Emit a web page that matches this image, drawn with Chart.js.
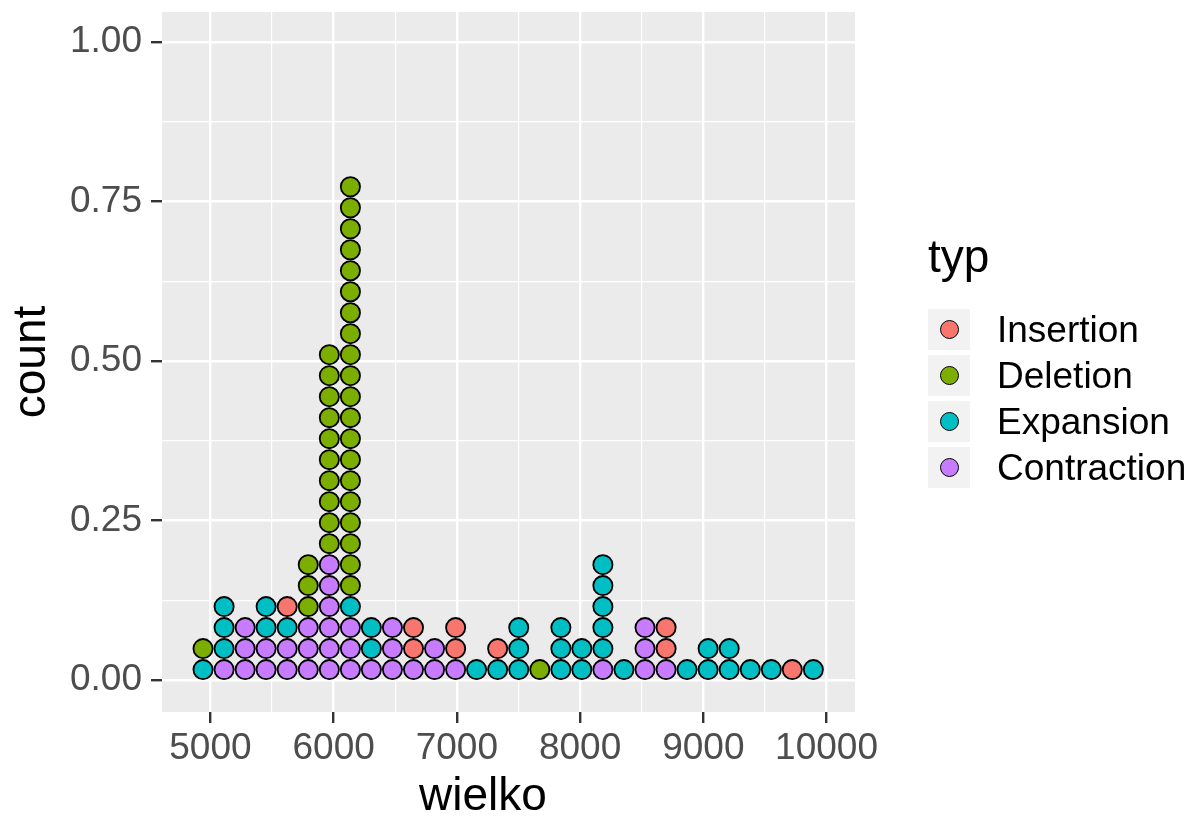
<!DOCTYPE html>
<html>
<head>
<meta charset="utf-8">
<title>dotplot typ</title>
<script src="https://cdn.jsdelivr.net/npm/chart.js@4/dist/chart.umd.min.js"></script>
<style>
    body { margin: 0; background: #fff; font-family: "Liberation Sans", Arial, sans-serif; }
    #wrap { position: relative; width: 1191px; height: 820px; }
    #chart { position: absolute; left: 0; top: 0; }
    .xtitle { position: absolute; left: 0; width: 966px; top: 771px; text-align: center; font-size: 46px; line-height: 46px; color: #000; }
    .legend { position: absolute; left: 928px; top: 233px; color: #000; }
    .legend .ttl { font-size: 46px; line-height: 46px; height: 73px; }
    .legend .row { display: flex; align-items: center; height: 46px; }
    .legend .key { width: 42px; height: 41px; background: #F2F2F2; display: flex; align-items: center; justify-content: center; margin-right: 27px; }
    .legend .dot { width: 17px; height: 17px; border-radius: 50%; border: 1.7px solid #000; }
    .legend .lab { font-size: 37px; line-height: 41px; }
</style>
</head>
<body>
<div id="wrap">
    <canvas id="chart" width="1191" height="820"></canvas>
    <div class="xtitle">wielko</div>
    <div class="legend" id="legend"></div>
</div>
<script>
// --- dane ---
const types = ['Insertion', 'Deletion', 'Expansion', 'Contraction'];
const typeColors = ['#F8766D', '#7CAE00', '#00BFC4', '#C77CFF'];
// kolejnosc ukladania kropek od dolu
const stackOrder = ['Contraction', 'Expansion', 'Deletion', 'Insertion'];

// srodki przedzialow (wielko)
const bins = [4940, 5111, 5282, 5452, 5623, 5794, 5965, 6136, 6306, 6477,
              6648, 6819, 6990, 7160, 7331, 7502, 7673, 7844, 8014, 8185,
              8356, 8527, 8698, 8868, 9039, 9210, 9381, 9552, 9722, 9893];

// liczba kropek w kazdym przedziale
const insertionCounts   = [0,0,0,0,1,0,0,0,0,0, 2,0,2,0,1,0,0,0,0,0, 0,0,2,0,0,0,0,0,1,0];
const deletionCounts    = [1,0,0,0,0,3,10,20,0,0, 0,0,0,0,0,0,1,0,0,0, 0,0,0,0,0,0,0,0,0,0];
const expansionCounts   = [1,3,0,2,1,0,0,1,2,0, 0,0,0,1,1,3,0,3,2,5, 1,0,0,1,2,2,1,1,0,1];
const contractionCounts = [0,1,3,2,2,3,6,3,1,3, 1,2,1,0,0,0,0,0,0,1, 0,3,1,0,0,0,0,0,0,0];

const xMajor = [5000, 6000, 7000, 8000, 9000, 10000];
const xMinor = [5500, 6500, 7500, 8500, 9500];
const yMajor = [0, 0.25, 0.5, 0.75, 1];
const yMinor = [0.125, 0.375, 0.625, 0.875];

const dotH = 0.0329; // wysokosc jednej kropki w jednostkach osi y

const countsByType = {
    Insertion: insertionCounts,
    Deletion: deletionCounts,
    Expansion: expansionCounts,
    Contraction: contractionCounts
};

// ukladanie kropek w stosy
const points = {};
types.forEach(t => points[t] = []);
bins.forEach((b, i) => {
    let row = 0;
    stackOrder.forEach(t => {
        for (let k = 0; k < countsByType[t][i]; k++) {
            points[t].push({ x: b, y: (row + 0.5) * dotH });
            row++;
        }
    });
});

const FONT = "'Liberation Sans', Arial, sans-serif";

const panelBg = {
    id: 'panelBg',
    beforeDraw(chart) {
        const { ctx, chartArea: a } = chart;
        ctx.save();
        ctx.fillStyle = '#EBEBEB';
        ctx.fillRect(a.left, a.top, a.right - a.left, a.bottom - a.top);
        ctx.restore();
    }
};

const isIn = (arr, v) => arr.some(m => Math.abs(m - v) < 1e-9);

new Chart(document.getElementById('chart'), {
    type: 'scatter',
    data: {
        datasets: types.map((t, i) => ({
            label: t,
            data: points[t],
            backgroundColor: typeColors[i],
            borderColor: '#000',
            borderWidth: 1.8,
            pointRadius: 9.6,
            pointHoverRadius: 9.6
        }))
    },
    options: {
        responsive: false,
        animation: false,
        layout: { padding: { left: 0, right: 336, top: 12, bottom: 0 } },
        plugins: { legend: { display: false }, tooltip: { enabled: false } },
        scales: {
            x: {
                type: 'linear', min: 4607, max: 10231,
                afterBuildTicks: s => { s.ticks = xMajor.concat(xMinor).sort((a, b) => a - b).map(v => ({ value: v })); },
                afterFit: s => { s.height = 108; s.paddingLeft = 0; s.paddingRight = 0; },
                border: { display: false },
                grid: {
                    color: '#FFFFFF',
                    lineWidth: c => isIn(xMajor, c.tick.value) ? 2.4 : 1.2,
                    tickColor: c => isIn(xMajor, c.tick.value) ? '#333333' : 'rgba(0,0,0,0)',
                    tickLength: 11, tickWidth: 2.4
                },
                ticks: {
                    autoSkip: false, maxRotation: 0, padding: 4,
                    color: '#4D4D4D', font: { size: 37, family: FONT },
                    callback: v => isIn(xMajor, v) ? String(v) : ''
                }
            },
            y: {
                type: 'linear', min: -0.05, max: 1.047,
                afterBuildTicks: s => { s.ticks = yMajor.concat(yMinor).sort((a, b) => a - b).map(v => ({ value: v })); },
                afterFit: s => { s.width = 162; s.paddingTop = 0; s.paddingBottom = 0; },
                border: { display: false },
                grid: {
                    color: '#FFFFFF',
                    lineWidth: c => isIn(yMajor, c.tick.value) ? 2.4 : 1.2,
                    tickColor: c => isIn(yMajor, c.tick.value) ? '#333333' : 'rgba(0,0,0,0)',
                    tickLength: 11, tickWidth: 2.4
                },
                ticks: {
                    autoSkip: false, padding: 9,
                    color: '#4D4D4D', font: { size: 37, family: FONT },
                    callback: v => isIn(yMajor, v) ? v.toFixed(2) : ''
                },
                title: {
                    display: true, text: 'count', color: '#000',
                    font: { size: 46, family: FONT }, padding: { top: 5, bottom: 0 }
                }
            }
        }
    },
    plugins: [panelBg]
});

// legenda
const legend = document.getElementById('legend');
legend.innerHTML = '<div class="ttl">typ</div>' + types.map((t, i) =>
    `<div class="row"><div class="key"><div class="dot" style="background:${typeColors[i]}"></div></div><div class="lab">${t}</div></div>`
).join('');
</script>
</body>
</html>
